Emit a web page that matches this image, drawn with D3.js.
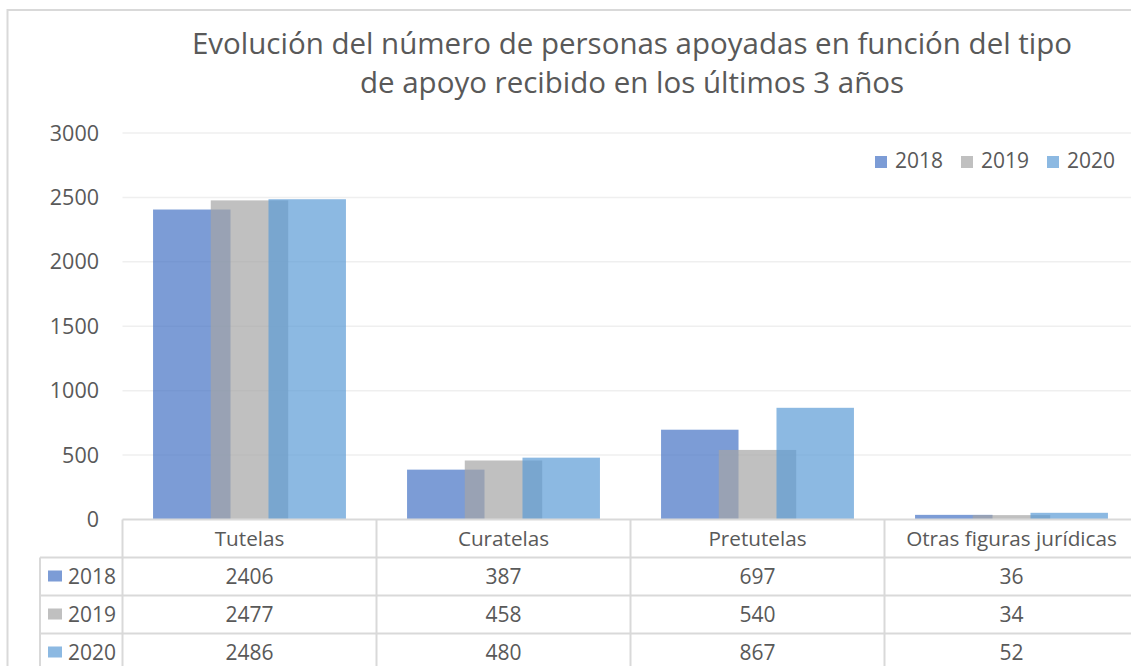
<!DOCTYPE html>
<html>
<head>
<meta charset="utf-8">
<script src="https://cdn.jsdelivr.net/npm/d3@7"></script>
<style>
  body { margin: 0; background: #fff; }
  svg { display: block; font-family: "Open Sans", sans-serif; }
  text { fill: #595959; }
</style>
</head>
<body>
<svg id="chart" width="1131" height="666"></svg>
<script>
// chart data
var categories = ["Tutelas", "Curatelas", "Pretutelas", "Otras figuras jurídicas"];
var years = ["2018", "2019", "2020"];
var v2018 = [2406, 387, 697, 36];
var v2019 = [2477, 458, 540, 34];
var v2020 = [2486, 480, 867, 52];
var yTicks = [0, 500, 1000, 1500, 2000, 2500, 3000];
var titleLines = ["Evolución del número de personas apoyadas en función del tipo",
                  "de apoyo recibido en los últimos 3 años"];
var colors = ["#4472C4", "#A5A5A5", "#5B9BD5"];

var series = [v2018, v2019, v2020];

var svg = d3.select("#chart");

// outer frame
svg.append("rect")
  .attr("x", 7.5).attr("y", 10)
  .attr("width", 1200).attr("height", 700)
  .attr("fill", "none").attr("stroke", "#D9D9D9").attr("stroke-width", 2);

// title
svg.selectAll("text.title")
  .data(titleLines)
  .enter().append("text")
  .attr("class", "title")
  .attr("x", 632)
  .attr("y", function (d, i) { return 54 + i * 39; })
  .attr("text-anchor", "middle")
  .style("font-size", "29.5px")
  .text(function (d) { return d; });

var x = d3.scaleBand().domain(categories).range([122.5, 1138.5]).padding(0);
var y = d3.scaleLinear().domain([0, 3000]).range([519.5, 133]);

// gridlines
svg.selectAll("line.grid")
  .data(yTicks.filter(function (d) { return d > 0; }))
  .enter().append("line")
  .attr("class", "grid")
  .attr("x1", 122.5).attr("x2", 1140)
  .attr("y1", function (d) { return y(d); })
  .attr("y2", function (d) { return y(d); })
  .attr("stroke", "#EFEFEF").attr("stroke-width", 1.5);

// y tick labels
svg.selectAll("text.ytick")
  .data(yTicks)
  .enter().append("text")
  .attr("class", "ytick")
  .attr("x", 99)
  .attr("y", function (d) { return y(d) + 7.5; })
  .attr("text-anchor", "end")
  .style("font-size", "21.5px")
  .text(function (d) { return d; });

// bars: 25% overlap, 79% gap width
var bw = x.bandwidth() * 0.305;
var step = bw * 0.745;
var groupW = bw + step * 2;

series.forEach(function (vals, s) {
  svg.append("g")
    .selectAll("rect")
    .data(vals)
    .enter().append("rect")
    .attr("x", function (d, i) {
      return x(categories[i]) + (x.bandwidth() - groupW) / 2 + s * step;
    })
    .attr("y", function (d) { return y(d); })
    .attr("width", bw)
    .attr("height", function (d) { return y(0) - y(d); })
    .attr("fill", colors[s])
    .attr("fill-opacity", 0.7);
});

// data table
var rowH = 38;
var tTop = 519.5;
var tbl = svg.append("g").attr("stroke", "#D9D9D9").attr("stroke-width", 2);

// axis line / header top
tbl.append("line").attr("x1", 122.5).attr("x2", 1140).attr("y1", tTop).attr("y2", tTop);
years.forEach(function (yr, r) {
  var yy = tTop + rowH * (r + 1);
  tbl.append("line").attr("x1", 40).attr("x2", 1140).attr("y1", yy).attr("y2", yy);
});
// vertical lines
categories.forEach(function (c) {
  tbl.append("line").attr("x1", x(c)).attr("x2", x(c)).attr("y1", tTop).attr("y2", 680);
});
tbl.append("line").attr("x1", 40).attr("x2", 40).attr("y1", tTop + rowH).attr("y2", 680);

// header labels
svg.selectAll("text.cat")
  .data(categories)
  .enter().append("text")
  .attr("class", "cat")
  .attr("x", function (d) { return x(d) + x.bandwidth() / 2; })
  .attr("y", tTop + 26)
  .attr("text-anchor", "middle")
  .style("font-size", "20.7px")
  .text(function (d) { return d; });

// rows
series.forEach(function (vals, r) {
  var yy = tTop + rowH * (r + 1);
  svg.append("rect")
    .attr("x", 48).attr("y", yy + 13)
    .attr("width", 14).attr("height", 11)
    .attr("fill", colors[r]).attr("fill-opacity", 0.7);
  svg.append("text")
    .attr("x", 68).attr("y", yy + 26)
    .style("font-size", "21px")
    .text(years[r]);
  svg.selectAll("text.v" + r)
    .data(vals)
    .enter().append("text")
    .attr("class", "v" + r)
    .attr("x", function (d, i) { return x(categories[i]) + x.bandwidth() / 2; })
    .attr("y", yy + 26)
    .attr("text-anchor", "middle")
    .style("font-size", "21px")
    .text(function (d) { return d; });
});

// legend
var legX = [875, 961, 1047];
years.forEach(function (yr, i) {
  svg.append("rect")
    .attr("x", legX[i]).attr("y", 156)
    .attr("width", 12).attr("height", 12)
    .attr("fill", colors[i]).attr("fill-opacity", 0.7);
  svg.append("text")
    .attr("x", legX[i] + 20).attr("y", 168)
    .style("font-size", "21px")
    .text(yr);
});
</script>
</body>
</html>
